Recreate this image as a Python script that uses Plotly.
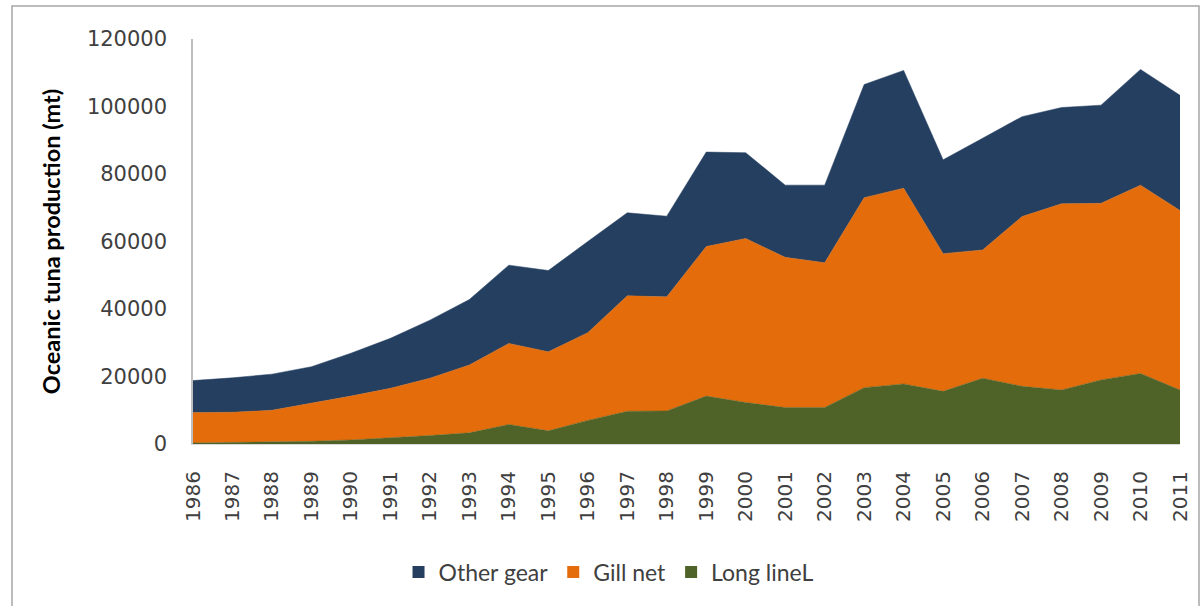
import plotly.graph_objects as go

# Oceanic tuna production by gear type (metric tonnes)
years = list(range(1986, 2012))
year_labels = [str(y) for y in years]

long_line = [300, 400, 500, 800, 1200, 1800, 2500, 3300, 5800, 3900, 7000, 9700,
             9800, 14200, 12300, 10800, 10800, 16700, 17800, 15600, 19500, 17100,
             16000, 19000, 20900, 16000]
gill_net = [9000, 9000, 9500, 11200, 13000, 14700, 17000, 20100, 24000, 23400,
            26000, 34200, 33800, 44300, 48600, 44500, 42900, 56300, 58000, 40800,
            38000, 50300, 55200, 52300, 55800, 53200]
other_gear = [9500, 10200, 10700, 10900, 12700, 14800, 17200, 19400, 23200, 24100,
              27000, 24600, 23900, 28000, 25400, 21400, 23000, 33500, 34900, 27800,
              33100, 29600, 28500, 29100, 34300, 34100]

series = [
    ("Long lineL", long_line, "#4f6228"),
    ("Gill net", gill_net, "#e46c0a"),
    ("Other gear", other_gear, "#243f60"),
]

fig = go.Figure()

for name, values, color in series:
    fig.add_trace(go.Scatter(
        x=years, y=values, name=name, mode="lines",
        stackgroup="gear", line=dict(color=color, width=0.5),
        fillcolor=color, showlegend=False, hoverinfo="x+y+name",
    ))

# square legend keys
for name, values, color in series:
    fig.add_trace(go.Scatter(
        x=[None], y=[None], name=name, mode="markers",
        marker=dict(symbol="square", size=12, color=color),
        showlegend=True,
    ))

fig.update_layout(
    width=1203, height=606,
    margin=dict(l=193, r=23, t=39, b=162),
    paper_bgcolor="white", plot_bgcolor="white",
    font=dict(family="DejaVu Sans", color="#404040"),
    showlegend=True,
    legend=dict(
        orientation="h", traceorder="reversed",
        x=0.421, xanchor="center", y=-0.316, yanchor="middle",
        font=dict(family="Lato", size=23, color="#404040"),
        itemwidth=30, bgcolor="rgba(0,0,0,0)",
    ),
    xaxis=dict(
        range=[1986, 2011], tickmode="array", tickvals=years, ticktext=year_labels,
        tickangle=-90, tickfont=dict(size=20, color="#404040"),
        showgrid=False, zeroline=False, showline=True, linecolor="#d9d9d9",
        ticks="", ticklabelstandoff=18,
    ),
    yaxis=dict(
        range=[0, 120000], tickmode="array",
        tickvals=[0, 20000, 40000, 60000, 80000, 100000, 120000],
        ticktext=["0", "20000", "40000", "60000", "80000", "100000", "120000"],
        tickfont=dict(size=21, color="#404040"),
        showgrid=False, zeroline=False, showline=True, linecolor="#bfbfbf",
        linewidth=1.5, ticks="", ticklabelstandoff=20,
        title=dict(text="<b>Oceanic tuna production (mt)</b>",
                   font=dict(family="Lato", size=23.5, color="#000000"),
                   standoff=20),
    ),
    shapes=[dict(
        type="rect", xref="paper", yref="paper",
        x0=(12 - 193) / 987, x1=(1199 - 193) / 987,
        y0=(444 - 640) / 405, y1=(444 - 6) / 405,
        line=dict(color="#a6a6a6", width=1.5), fillcolor="rgba(0,0,0,0)",
        layer="below",
    )],
)

fig.write_html("out.html")
